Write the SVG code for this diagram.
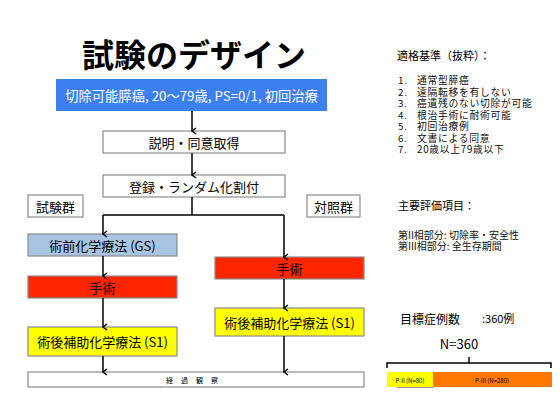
<svg xmlns="http://www.w3.org/2000/svg" width="560" height="420" viewBox="0 0 560 420">
<style>
text{font-family:"Noto Sans CJK JP","Noto Sans",sans-serif;fill:#000;dominant-baseline:central}
.box{stroke:#8c8c8c;stroke-width:1.2}
.c{text-anchor:middle}
.f13{font-size:13px}
.conn{stroke:#000;stroke-width:1.5;fill:none}
.s{font-size:9.8px;letter-spacing:0.7px;fill:#111}
.e{font-size:10px;fill:#111}
</style>
<defs>
<marker id="ah" markerWidth="8" markerHeight="8" refX="4" refY="6.5" orient="auto-start-reverse" markerUnits="userSpaceOnUse" viewBox="0 0 8 8">
<path d="M1,2.5 L4,6.5 L7,2.5" fill="none" stroke="#000" stroke-width="1.4"/>
</marker>
</defs>
<rect width="560" height="420" fill="#fff"/>
<text x="194" y="53" class="c" style="font-size:32px;font-weight:bold">試験のデザイン</text>

<g id="n-eligible">
<rect x="56" y="79" width="271" height="32" fill="#3c80f0"/>
<text x="191.5" y="95" class="c" style="fill:#fff;font-size:13.3px">切除可能膵癌, 20～79歳, PS=0/1, 初回治療</text>
</g>
<g id="n-consent">
<rect class="box" x="103" y="131" width="182" height="22" fill="#fff"/>
<text x="194" y="142" class="c f13">説明・同意取得</text>
</g>
<g id="n-random">
<rect class="box" x="103" y="175" width="182" height="22" fill="#fff"/>
<text x="194" y="186" class="c f13">登録・ランダム化割付</text>
</g>
<g id="n-test">
<rect class="box" x="28" y="195" width="55" height="22" fill="#fff"/>
<text x="55.5" y="206" class="c f13">試験群</text>
</g>
<g id="n-control">
<rect class="box" x="307" y="195" width="53" height="22" fill="#fff"/>
<text x="333.5" y="206" class="c f13">対照群</text>
</g>
<g id="n-neo">
<rect class="box" x="28" y="234" width="149" height="22" fill="#a9c3e2"/>
<text x="102.5" y="245" class="c f13">術前化学療法 (GS)</text>
</g>
<g id="n-surg-l">
<rect class="box" x="28" y="276" width="149" height="22" fill="#ff2600"/>
<text x="102.5" y="287" class="c f13">手術</text>
</g>
<g id="n-adj-l">
<rect class="box" x="28" y="327" width="149" height="29" fill="#ffff00"/>
<text x="102.5" y="341.5" class="c f13">術後補助化学療法 (S1)</text>
</g>
<g id="n-surg-r">
<rect class="box" x="215" y="257" width="149" height="22" fill="#ff2600"/>
<text x="289.5" y="268" class="c f13">手術</text>
</g>
<g id="n-adj-r">
<rect class="box" x="215" y="308" width="149" height="28" fill="#ffff00"/>
<text x="289.5" y="322" class="c f13">術後補助化学療法 (S1)</text>
</g>
<g id="n-follow">
<rect class="box" x="28" y="372" width="336" height="15" fill="#fff"/>
<text x="196" y="380" class="c" style="font-size:7px;letter-spacing:8px">経過観察</text>
</g>

<g id="connectors">
<path class="conn" d="M192,111 V131" marker-end="url(#ah)"/>
<path class="conn" d="M192,153 V175" marker-end="url(#ah)"/>
<path class="conn" d="M192,197 V215"/>
<path class="conn" d="M103,215 H284"/>
<path class="conn" d="M103,215 V234" marker-end="url(#ah)"/>
<path class="conn" d="M284,215 V257" marker-end="url(#ah)"/>
<path class="conn" d="M103,256 V276" marker-end="url(#ah)"/>
<path class="conn" d="M103,298 V327" marker-end="url(#ah)"/>
<path class="conn" d="M103,356 V372" marker-end="url(#ah)"/>
<path class="conn" d="M284,279 V308" marker-end="url(#ah)"/>
<path class="conn" d="M284,336 V372" marker-end="url(#ah)"/>
</g>

<g id="criteria">
<text x="397" y="55" style="font-size:11px">適格基準（抜粋）：</text>
<text x="398" y="80" class="s">1.</text><text x="417" y="80" class="s">通常型膵癌</text>
<text x="398" y="91.5" class="s">2.</text><text x="417" y="91.5" class="s">遠隔転移を有しない</text>
<text x="398" y="103" class="s">3.</text><text x="417" y="103" class="s">癌遺残のない切除が可能</text>
<text x="398" y="114.5" class="s">4.</text><text x="417" y="114.5" class="s">根治手術に耐術可能</text>
<text x="398" y="126" class="s">5.</text><text x="417" y="126" class="s">初回治療例</text>
<text x="398" y="137.5" class="s">6.</text><text x="417" y="137.5" class="s">文書による同意</text>
<text x="398" y="149" class="s">7.</text><text x="417" y="149" class="s">20歳以上79歳以下</text>
</g>
<g id="endpoints">
<text x="398" y="205" style="font-size:11px">主要評価項目：</text>
<text x="398" y="234" class="e">第II相部分: 切除率・安全性</text>
<text x="398" y="245.5" class="e">第III相部分: 全生存期間</text>
</g>
<g id="samplesize">
<text x="400" y="318" style="font-size:12px">目標症例数</text>
<text x="482" y="318" style="font-size:11px">:360例</text>
<text x="459" y="343" class="c" style="font-size:13px">N=360</text>
<path d="M387,368 V363 H551 V368 M469,363 V357" fill="none" stroke="#000" stroke-width="1.5"/>
<rect x="433" y="372" width="119" height="15" fill="#ff7800"/>
<rect x="387" y="372" width="46" height="15" fill="#ffff00"/>
<line x1="397" y1="387.5" x2="433" y2="387.5" stroke="#9a9a9a" stroke-width="1"/>
<text x="410" y="380" class="c" style="font-size:6px">P-II (N=80)</text>
<text x="492" y="380" class="c" style="font-size:6px">P-III (N=280)</text>
</g>
</svg>
